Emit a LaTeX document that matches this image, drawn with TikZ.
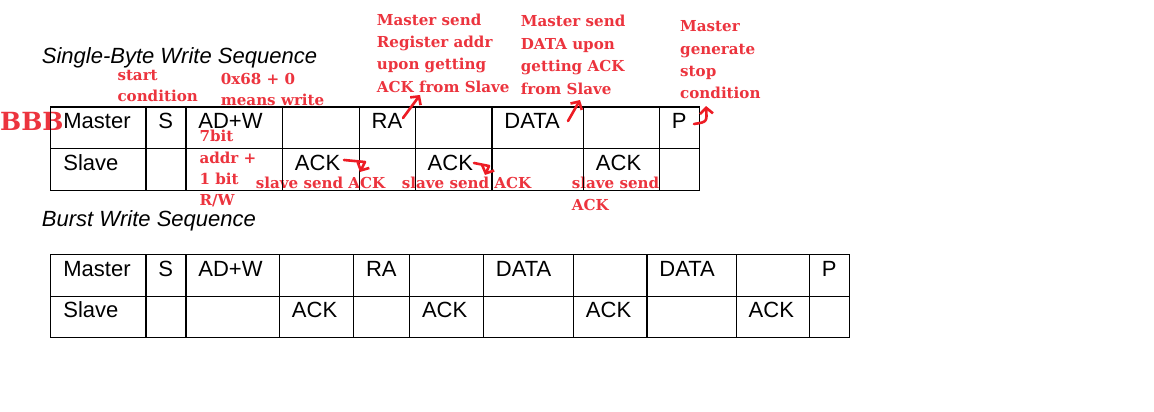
\documentclass[tikz,border=0pt]{standalone}
\usepackage{fontspec}
\setmainfont{Liberation Sans}
\newfontfamily\notefont{DejaVu Serif}
\usepackage{tikz}
\usetikzlibrary{matrix,arrows.meta}

\definecolor{penred}{RGB}{237,28,36}
\definecolor{notered}{RGB}{236,52,62}

\tikzset{
	cell/.style={draw, line width=1.2pt, inner xsep=12.5pt, inner ysep=0pt, outer sep=0pt,
		text height=21.6pt, text depth=20pt, align=left, font=\fontsize{22}{26}\selectfont},
	seqtitle/.style={anchor=base west, inner sep=0pt, font=\fontsize{22}{26}\selectfont\itshape},
	note/.style={text=notered, anchor=base west, inner sep=0pt, align=left,
		font=\notefont\bfseries\fontsize{15.1}{22.4}\selectfont},
	tightnote/.style={note, font=\notefont\bfseries\fontsize{15.1}{21.2}\selectfont},
	pen/.style={draw=penred, line width=2.6pt, line cap=round, line join=round,
		-{Straight Barb[length=6pt,width=13pt,line width=2.6pt]}}
}

\begin{document}
\begin{tikzpicture}[x=1pt,y=-1pt]
\useasboundingbox[fill=white] (0,0) rectangle (1154,412);

% red remarks (multi-line ones sit on the base of their last line)
\node[note, font=\notefont\bfseries\fontsize{25}{30}\selectfont] (bbb) at (0,130.7) {BBB};
\node[tightnote] (start) at (117.3,101.7) {start\\condition};
\node[tightnote] (means) at (220.7,106) {0x68 + 0\\means write};
\node[tightnote] (bits) at (199.3,205.4) {7bit\\addr +\\1 bit\\R/W};
\node[note] (regnote) at (376.7,92.3) {Master send\\Register addr\\upon getting\\ACK from Slave};
\node[note] (datanote) at (520.7,94) {Master send\\DATA upon\\getting ACK\\from Slave};
\node[note] (stopnote) at (680,99) {Master\\generate\\stop\\condition};
\node[note] (ackone) at (255.7,188.3) {slave send ACK};
\node[note] (acktwo) at (401.7,188.3) {slave send ACK};
\node[note] (ackthree) at (571.7,210.7) {slave send\\ACK};

% titles
\node[seqtitle] (singletitle) at (41.7,63.5) {Single-Byte Write Sequence};
\node[seqtitle] (bursttitle) at (41.7,226) {Burst Write Sequence};

% single byte table
\matrix (single)
[matrix of nodes,
nodes in empty cells,
nodes={cell},
row sep=-1.2pt,
column sep=-1.2pt,
inner sep=0pt,
anchor=north west,
column 1/.style={nodes={text width=70pt}},
column 2/.style={nodes={text width=15pt}},
column 3/.style={nodes={text width=71.6pt}},
column 4/.style={nodes={text width=51.7pt}},
column 5/.style={nodes={text width=31pt}},
column 6/.style={nodes={text width=51.7pt}},
column 7/.style={nodes={text width=66.6pt}},
column 8/.style={nodes={text width=51pt}},
column 9/.style={nodes={text width=15pt}}]
at (50.1,106.1)
{
	Master&S&AD+W&&RA&&DATA&&P\\
	Slave&&&ACK&&ACK&&ACK&\\
};

% burst table
\matrix (burst)
[matrix of nodes,
nodes in empty cells,
nodes={cell},
row sep=-1.2pt,
column sep=-1.2pt,
inner sep=0pt,
anchor=north west,
column 1/.style={nodes={text width=70pt}},
column 2/.style={nodes={text width=15pt}},
column 3/.style={nodes={text width=68.6pt}},
column 4/.style={nodes={text width=49pt}},
column 5/.style={nodes={text width=31pt}},
column 6/.style={nodes={text width=49pt}},
column 7/.style={nodes={text width=65pt}},
column 8/.style={nodes={text width=48.4pt}},
column 9/.style={nodes={text width=64.3pt}},
column 10/.style={nodes={text width=48.3pt}},
column 11/.style={nodes={text width=14.7pt}}]
at (50.1,253.7)
{
	Master&S&AD+W&&RA&&DATA&&DATA&&P\\
	Slave&&&ACK&&ACK&&ACK&&ACK&\\
};

% pen arrows
\coordinate (hookone) at (344,160);
\coordinate (tipone) at (360,172);
\coordinate (hooktwo) at (474,163);
\coordinate (tiptwo) at (485,175);
\coordinate (raout) at (403,118);
\coordinate (raup) at (420,95);
\coordinate (dataout) at (568,121);
\coordinate (dataup) at (580,100);
\coordinate (pout) at (694,124);
\coordinate (pup) at (706,106);
\draw[pen] (hookone) -- (365,162) -- (tipone);
\draw[pen] (hooktwo) -- (489,166) -- (tiptwo);
\draw[pen] (raout) -- (raup);
\draw[pen] (dataout) -- (dataup);
\draw[pen] (pout) .. controls (707,122) .. (pup);
\end{tikzpicture}
\end{document}
